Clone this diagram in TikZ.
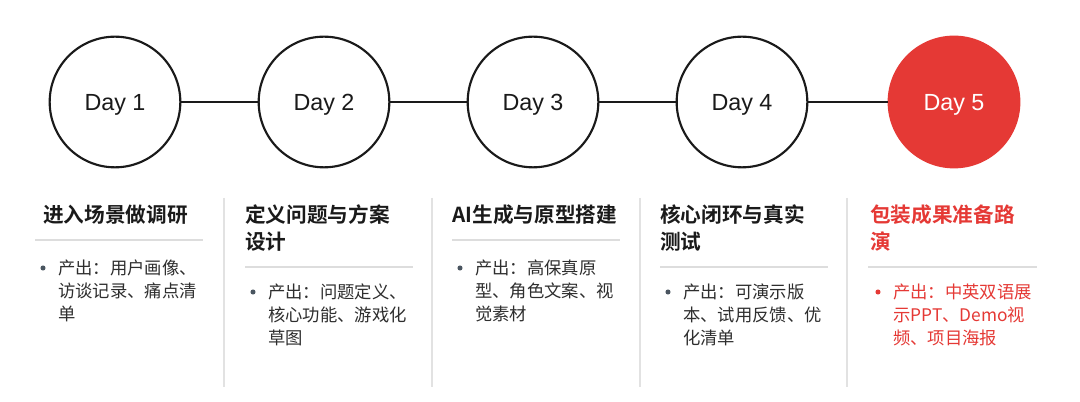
\documentclass[tikz,border=0pt]{standalone}
\usepackage{fontspec}
\setmainfont{Liberation Sans}
\newfontfamily\cjk{Noto Sans CJK SC}
\newfontfamily\cjkb{Noto Sans CJK SC Bold}
\definecolor{accent}{HTML}{E53935}
\definecolor{ink}{HTML}{1A1A1A}
\definecolor{body}{HTML}{2E2E2E}
\definecolor{bullet}{HTML}{4A5560}
\definecolor{rule}{HTML}{DDDDDD}
\definecolor{sep}{HTML}{E2E2E2}
\begin{document}
\begin{tikzpicture}[x=0.75pt,y=-0.75pt,
  day/.style={circle,draw=ink,line width=1.6pt,fill=white,minimum size=98pt,inner sep=0,
    text depth=0pt,font=\fontsize{17.5}{20}\selectfont,text=ink},
  dayhot/.style={day,draw=accent,fill=accent,text=white},
  link/.style={draw=ink,line width=1.4pt},
  head/.style={anchor=base west,inner sep=0,align=left,text width=140pt,
    font=\cjkb\fontsize{15.5}{20.2}\selectfont,text=ink},
  item/.style={anchor=base west,inner sep=0,align=left,text width=130pt,
    font=\cjk\fontsize{13}{17.3}\selectfont,text=body},
  hrule/.style={draw=rule,line width=0.8pt},
  vsep/.style={draw=sep,line width=0.8pt},
  dot/.style={circle,fill=bullet,inner sep=0,minimum size=3.8pt}]
\useasboundingbox[fill=white] (0,0) rectangle (1080,402);

% day circles
\node[day] (d1) at (115,102) {Day 1};
\node[day] (d2) at (324,102) {Day 2};
\node[day] (d3) at (533,102) {Day 3};
\node[day] (d4) at (742,102) {Day 4};
\node[dayhot] (d5) at (954,102) {Day 5};
\draw[link] (d1) -- (d2);
\draw[link] (d2) -- (d3);
\draw[link] (d3) -- (d4);
\draw[link] (d4) -- (d5);

% separators
\coordinate (s1t) at (224,198); \coordinate (s1b) at (224,387);
\coordinate (s2t) at (432,198); \coordinate (s2b) at (432,387);
\coordinate (s3t) at (640,198); \coordinate (s3b) at (640,387);
\coordinate (s4t) at (847,198); \coordinate (s4b) at (847,387);
\draw[vsep] (s1t) -- (s1b);
\draw[vsep] (s2t) -- (s2b);
\draw[vsep] (s3t) -- (s3b);
\draw[vsep] (s4t) -- (s4b);

% column 1
\node[head] (h1) at (43,223) {进入场景做调研};
\coordinate (r1a) at (35,240); \coordinate (r1b) at (203,240);
\draw[hrule] (r1a) -- (r1b);
\node[dot] (b1) at (43,268) {};
\node[item] (t1) at (58,274.5) {产出：用户画像、\\访谈记录、痛点清\\单};

% column 2
\node[head] (h2) at (245,223) {定义问题与方案\\设计};
\coordinate (r2a) at (245,267); \coordinate (r2b) at (413,267);
\draw[hrule] (r2a) -- (r2b);
\node[dot] (b2) at (253,292) {};
\node[item] (t2) at (268,298.5) {产出：问题定义、\\核心功能、游戏化\\草图};

% column 3
\node[head] (h3) at (452,223) {AI生成与原型搭建};
\coordinate (r3a) at (452,240); \coordinate (r3b) at (620,240);
\draw[hrule] (r3a) -- (r3b);
\node[dot] (b3) at (460,268) {};
\node[item] (t3) at (475,274.5) {产出：高保真原\\型、角色文案、视\\觉素材};

% column 4
\node[head] (h4) at (660,223) {核心闭环与真实\\测试};
\coordinate (r4a) at (660,267); \coordinate (r4b) at (828,267);
\draw[hrule] (r4a) -- (r4b);
\node[dot] (b4) at (668,292) {};
\node[item] (t4) at (683,298.5) {产出：可演示版\\本、试用反馈、优\\化清单};

% column 5
\node[head,text=accent] (h5) at (870,223) {包装成果准备路\\演};
\coordinate (r5a) at (868,267); \coordinate (r5b) at (1037,267);
\draw[hrule] (r5a) -- (r5b);
\node[dot,fill=accent] (b5) at (878,292) {};
\node[item,text=accent] (t5) at (893,298.5) {产出：中英双语展\\示PPT、Demo视\\频、项目海报};
\end{tikzpicture}
\end{document}
